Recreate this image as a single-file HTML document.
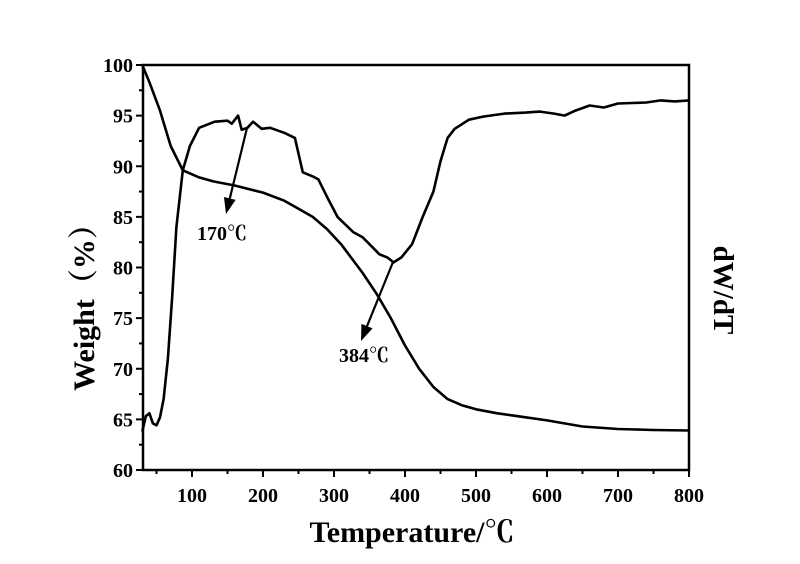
<!DOCTYPE html>
<html><head><meta charset="utf-8"><style>
html,body{margin:0;padding:0;background:#fff;}
svg{display:block;font-family:"Liberation Serif","Noto Serif CJK SC",serif;}
</style></head><body>
<svg id="chart" width="800" height="564" viewBox="0 0 800 564">
<g id="axes"></g>
<g id="series"></g>
<g id="annot"></g>
<text x="412" y="542" font-size="30" font-weight="bold" text-anchor="middle">Temperature/℃</text>
<text transform="translate(94,300) rotate(-90)" font-size="30" font-weight="bold" text-anchor="middle">Weight（%）</text>
<text transform="translate(714,290) rotate(90)" font-size="29" font-weight="bold" text-anchor="middle">dW/dT</text>
</svg>
<script>
const xTicks=[100,200,300,400,500,600,700,800];
const yTicks=[60,65,70,75,80,85,90,95,100];
const tgT=[30,40,55,70,87,110,130,160,200,230,250,270,290,310,340,360,380,400,420,440,460,480,500,530,560,600,650,700,750,800];
const tgW=[100,98.3,95.5,92,89.6,88.9,88.5,88.1,87.4,86.6,85.8,85,83.8,82.3,79.5,77.4,75,72.3,70,68.2,67,66.4,66,65.6,65.3,64.9,64.3,64.05,63.95,63.9];
const dtgT=[30,35,40,45,50,55,60,66,72,78,87,97,110,132,150,156,165,170,178,186,198,210,230,245,256,270,278,290,305,327,340,350,364,375,384,395,410,425,440,450,460,470,490,510,540,570,590,610,625,640,660,680,700,740,760,780,800];
const dtgV=[63.8,65.3,65.6,64.6,64.4,65.2,67,71,77,84,89.6,92,93.8,94.4,94.5,94.2,95,93.6,93.8,94.4,93.7,93.8,93.3,92.8,89.4,89,88.7,87,85,83.5,83,82.3,81.3,81,80.5,81,82.3,85,87.5,90.5,92.8,93.7,94.6,94.9,95.2,95.3,95.4,95.2,95,95.5,96,95.8,96.2,96.3,96.5,96.4,96.5];
const NS="http://www.w3.org/2000/svg";
const X0=143,X1=689,Y0=470,Y1=65,TMIN=31,TMAX=800;
function sx(t){return X0+(t-TMIN)/(TMAX-TMIN)*(X1-X0);}
function sy(v){return Y0-(v-60)/40*(Y0-Y1);}
function mk(tag,attrs,parent){const e=document.createElementNS(NS,tag);for(const k in attrs)e.setAttribute(k,attrs[k]);parent.appendChild(e);return e;}
const ax=document.getElementById('axes');
const frame=mk('rect',{x:X0,y:Y1,width:X1-X0,height:Y0-Y1,fill:'none',stroke:'#000','stroke-width':2.5},ax);


for(let t=50;t<=800;t+=50){
  const major=t%100===0;
  const l=mk('line',{x1:sx(t),x2:sx(t),y1:Y0,y2:Y0+(major?7:4),stroke:'#000','stroke-width':2},ax);
  
  
}
xTicks.forEach(t=>{
  const tx=mk('text',{x:sx(t),y:Y0+32,'font-size':20,'font-weight':'bold','text-anchor':'middle'},ax);
  tx.textContent=t;
  
  
});
for(let v=60;v<=100;v+=2.5){
  const major=v%5===0;
  const l=mk('line',{x1:X0,x2:X0-(major?7:4),y1:sy(v),y2:sy(v),stroke:'#000','stroke-width':2},ax);
  
  
}
yTicks.forEach(v=>{
  const tx=mk('text',{x:X0-10,y:sy(v)+7,'font-size':20,'font-weight':'bold','text-anchor':'end'},ax);
  tx.textContent=v;
  
  
});
const se=document.getElementById('series');
function path(T,V){return T.map((t,i)=>(i?'L':'M')+sx(t).toFixed(1)+','+sy(V[i]).toFixed(1)).join(' ');}
const p1=mk('path',{d:path(tgT,tgW),fill:'none',stroke:'#000','stroke-width':2.6,'stroke-linejoin':'round'},se);


const p2=mk('path',{d:path(dtgT,dtgV),fill:'none',stroke:'#000','stroke-width':2.6,'stroke-linejoin':'round'},se);


const an=document.getElementById('annot');
function arrow(x1,y1,x2,y2,name){
  const g=mk('g',{},an);
  
  
  const dx=x2-x1,dy=y2-y1,L=Math.hypot(dx,dy),ux=dx/L,uy=dy/L,h=16,w=6;
  const bx=x2-ux*h,by=y2-uy*h;
  mk('line',{x1:x1,y1:y1,x2:bx,y2:by,stroke:'#000','stroke-width':2.2},g);
  mk('polygon',{points:`${x2},${y2} ${bx-uy*w},${by+ux*w} ${bx+uy*w},${by-ux*w}`,fill:'#000'},g);
}
arrow(247,128,226,214,'arrow-170');
arrow(393,262,361,341,'arrow-384');
const l1=mk('text',{x:222,y:240,'font-size':20,'font-weight':'bold','text-anchor':'middle'},an);
l1.textContent='170℃';


const l2=mk('text',{x:364,y:362,'font-size':20,'font-weight':'bold','text-anchor':'middle'},an);
l2.textContent='384℃';


</script>
</body></html>
